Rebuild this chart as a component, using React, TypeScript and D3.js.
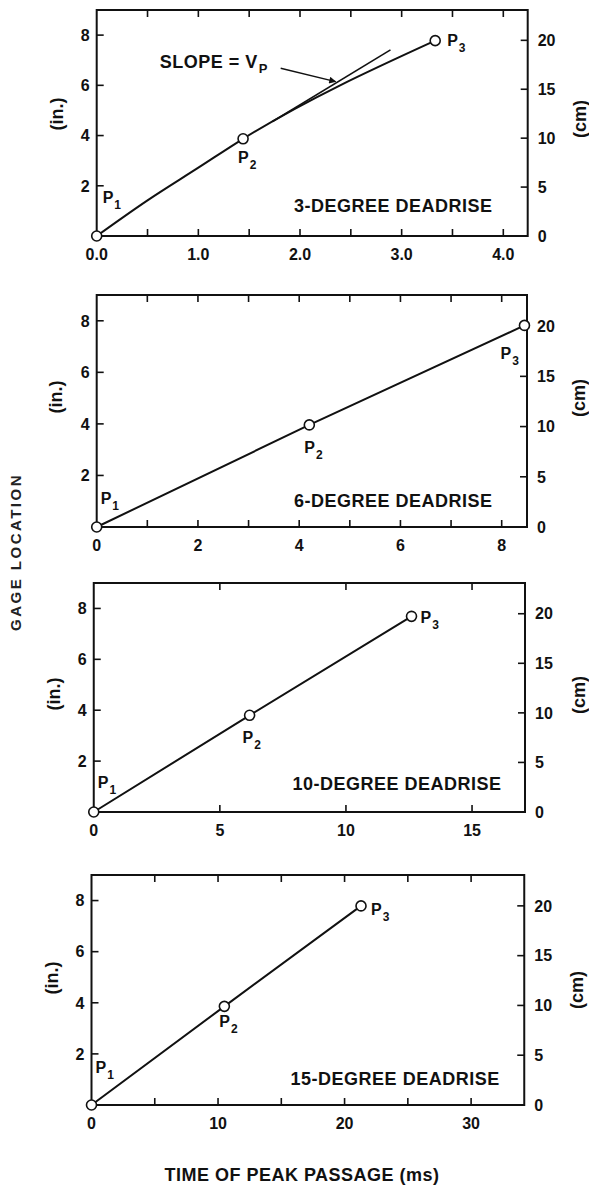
import React from "react";
import * as d3 from "d3";

// ---- data (time of peak passage in ms, gage location in inches) ----
const pointNames = ["P1", "P2", "P3"];

const deg3Time = [0, 1.44, 3.33];
const deg3Gage = [0, 3.87, 7.78];
const deg3CurveTime = [0, 0.5, 1.0, 1.44, 3.33];
const deg3CurveGage = [0, 1.42, 2.72, 3.87, 7.78];
const deg3SlopeTime = [1.73, 2.89];
const deg3SlopeGage = [4.56, 7.41];
const deg3ArrowTime = [1.81, 2.35];
const deg3ArrowGage = [6.68, 6.15];

const deg6Time = [0, 4.2, 8.45];
const deg6Gage = [0, 3.96, 7.82];

const deg10Time = [0, 6.18, 12.6];
const deg10Gage = [0, 3.8, 7.69];

const deg15Time = [0, 10.5, 21.3];
const deg15Gage = [0, 3.86, 7.79];

const titles = ["3-DEGREE DEADRISE", "6-DEGREE DEADRISE", "10-DEGREE DEADRISE", "15-DEGREE DEADRISE"];

const xLabelVals3 = [0, 1, 2, 3, 4];
const xLabels3 = ["0.0", "1.0", "2.0", "3.0", "4.0"];
const xTicks3 = [0.5, 1, 1.5, 2, 2.5, 3, 3.5, 4];
const xLabelVals6 = [0, 2, 4, 6, 8];
const xLabels6 = ["0", "2", "4", "6", "8"];
const xTicks6 = [1, 2, 3, 4, 5, 6, 7, 8];
const xLabelVals10 = [0, 5, 10, 15];
const xLabels10 = ["0", "5", "10", "15"];
const xTicks10 = [5, 10, 15];
const xLabelVals15 = [0, 10, 20, 30];
const xLabels15 = ["0", "10", "20", "30"];
const xTicks15 = [5, 10, 15, 20, 25, 30];

const inchTicks = [2, 4, 6, 8];
const cmTicks = [0, 5, 10, 15, 20];

const xAxisTitle = "TIME OF PEAK PASSAGE (ms)";
const yAxisTitle = "GAGE LOCATION";
const inUnit = "(in.)";
const cmUnit = "(cm)";
const slopeText = "SLOPE = V";
const slopeSub = "P";

// ---- layout ----
const W = 589;
const H = 1188;
const FONT = "'Liberation Sans', Arial, Helvetica, sans-serif";

type Panel = {
  time: number[]; gage: number[];
  curveTime?: number[]; curveGage?: number[];
  xMax: number; ticks: number[]; labelVals: number[]; labels: string[];
  L: number; R: number; T: number; B: number;
  title: string; titleX: number; titleDy: number;
  pOff: [number, number][];
  inY: number; cmY: number; inX: number; cmX: number;
};

const panels: Panel[] = [
  {
    time: deg3Time, gage: deg3Gage, curveTime: deg3CurveTime, curveGage: deg3CurveGage,
    xMax: 4.24, ticks: xTicks3, labelVals: xLabelVals3, labels: xLabels3,
    L: 96.7, R: 527.7, T: 10, B: 236,
    title: titles[0], titleX: 294, titleDy: -24,
    pOff: [[6, -33], [-5, 24], [12, 5]],
    inY: 114, cmY: 119, inX: 63, cmX: 586,
  },
  {
    time: deg6Time, gage: deg6Gage,
    xMax: 8.5, ticks: xTicks6, labelVals: xLabelVals6, labels: xLabels6,
    L: 96.7, R: 527, T: 295, B: 527,
    title: titles[1], titleX: 294, titleDy: -20,
    pOff: [[4, -23], [-5, 28], [-24, 34]],
    inY: 397, cmY: 398, inX: 62, cmX: 585,
  },
  {
    time: deg10Time, gage: deg10Gage,
    xMax: 17.1, ticks: xTicks10, labelVals: xLabelVals10, labels: xLabels10,
    L: 93.75, R: 525, T: 583, B: 812,
    title: titles[2], titleX: 292.5, titleDy: -22,
    pOff: [[4, -24], [-7, 28], [9, 7]],
    inY: 694, cmY: 695, inX: 60, cmX: 585,
  },
  {
    time: deg15Time, gage: deg15Gage,
    xMax: 34.2, ticks: xTicks15, labelVals: xLabelVals15, labels: xLabels15,
    L: 91.5, R: 524.25, T: 875, B: 1105,
    title: titles[3], titleX: 290.6, titleDy: -20,
    pOff: [[4, -32], [-5, 21], [10, 9]],
    inY: 978, cmY: 990, inX: 58, cmX: 583,
  },
];

const TICK = 7;

function PLabel({ x, y, name }: { x: number; y: number; name: string }) {
  return (
    <text x={x} y={y} fontFamily={FONT} fontWeight="bold" fontSize={16} fill="#111">
      {name[0]}
      <tspan fontSize={12} dy={6} dx={1}>{name.slice(1)}</tspan>
    </text>
  );
}

function PanelView({ p, idx }: { p: Panel; idx: number }) {
  const x = d3.scaleLinear().domain([0, p.xMax]).range([p.L, p.R]);
  const y = d3.scaleLinear().domain([0, 9]).range([p.B, p.T]);
  const yCm = d3.scaleLinear().domain([0, 23.1]).range([p.B, p.T]);

  const lt = p.curveTime || p.time;
  const lg = p.curveGage || p.gage;
  const pts: [number, number][] = lt.map((t, i) => [t, lg[i]]);
  const line = d3
    .line<[number, number]>()
    .x((d) => x(d[0]))
    .y((d) => y(d[1]))
    .curve(p.curveTime ? d3.curveMonotoneX : d3.curveLinear);

  const stroke = "#111";
  return (
    <g>
      <rect x={p.L} y={p.T} width={p.R - p.L} height={p.B - p.T} fill="none" stroke={stroke} strokeWidth={2} />
      {p.ticks.map((v, i) => (
        <g key={"xt" + i}>
          <line x1={x(v)} x2={x(v)} y1={p.B} y2={p.B - TICK} stroke={stroke} strokeWidth={1.6} />
          <line x1={x(v)} x2={x(v)} y1={p.T} y2={p.T + TICK} stroke={stroke} strokeWidth={1.6} />
        </g>
      ))}
      {p.labelVals.map((v, i) => (
        <text key={"xl" + i} x={x(v)} y={p.B + 24} textAnchor="middle" fontFamily={FONT} fontWeight="bold" fontSize={16} fill="#111">
          {p.labels[i]}
        </text>
      ))}
      {inchTicks.map((v, i) => (
        <g key={"yl" + i}>
          <line x1={p.L} x2={p.L + TICK} y1={y(v)} y2={y(v)} stroke={stroke} strokeWidth={1.6} />
          <text x={p.L - 7} y={y(v)} dy="0.36em" textAnchor="end" fontFamily={FONT} fontWeight="bold" fontSize={16} fill="#111">
            {v}
          </text>
        </g>
      ))}
      {cmTicks.map((v, i) => (
        <g key={"yr" + i}>
          {v > 0 && <line x1={p.R} x2={p.R - TICK} y1={yCm(v)} y2={yCm(v)} stroke={stroke} strokeWidth={1.6} />}
          <text x={p.R + 10} y={yCm(v)} dy="0.36em" textAnchor="start" fontFamily={FONT} fontWeight="bold" fontSize={16} fill="#111">
            {v}
          </text>
        </g>
      ))}
      <text transform={`translate(${p.inX},${p.inY}) rotate(-90)`} textAnchor="middle" fontFamily={FONT} fontWeight="bold" fontSize={18} fill="#111">
        {inUnit}
      </text>
      <text transform={`translate(${p.cmX},${p.cmY}) rotate(-90)`} textAnchor="middle" fontFamily={FONT} fontWeight="bold" fontSize={18} fill="#111">
        {cmUnit}
      </text>
      <path d={line(pts) || ""} fill="none" stroke={stroke} strokeWidth={2} />
      {idx === 0 && (
        <g>
          <line
            x1={x(deg3SlopeTime[0])} y1={y(deg3SlopeGage[0])}
            x2={x(deg3SlopeTime[1])} y2={y(deg3SlopeGage[1])}
            stroke={stroke} strokeWidth={1.6}
          />
          <line
            x1={x(deg3ArrowTime[0])} y1={y(deg3ArrowGage[0])}
            x2={x(deg3ArrowTime[1])} y2={y(deg3ArrowGage[1])}
            stroke={stroke} strokeWidth={1.4} markerEnd="url(#arrowHead)"
          />
          <text x={x(0.62)} y={y(6.68)} fontFamily={FONT} fontWeight="bold" fontSize={18} letterSpacing={0.5} fill="#111" xmlSpace="preserve">
            {slopeText}
            <tspan fontSize={13} dy={5} dx={1}>{slopeSub}</tspan>
          </text>
        </g>
      )}
      {p.time.map((t, i) => (
        <circle key={"c" + i} cx={x(t)} cy={y(p.gage[i])} r={5} fill="#fff" stroke={stroke} strokeWidth={1.6} />
      ))}
      {p.time.map((t, i) => (
        <PLabel key={"pl" + i} x={x(t) + p.pOff[i][0]} y={y(p.gage[i]) + p.pOff[i][1]} name={pointNames[i]} />
      ))}
      <text x={p.titleX} y={p.B + p.titleDy} fontFamily={FONT} fontWeight="bold" fontSize={18} letterSpacing={0.5} fill="#111">
        {p.title}
      </text>
    </g>
  );
}

export default function App() {
  return (
    <svg
      width={W}
      height={H}
      viewBox={`0 0 ${W} ${H}`}
      style={{ position: "absolute", left: 0, top: 0, background: "#fff" }}
    >
      <defs>
        <marker id="arrowHead" viewBox="0 0 10 10" refX={9} refY={5} markerWidth={11} markerHeight={7} markerUnits="userSpaceOnUse" orient="auto">
          <path d="M0,0 L10,5 L0,10 z" fill="#111" />
        </marker>
      </defs>
      <rect x={0} y={0} width={W} height={H} fill="#fff" />
      {panels.map((p, i) => (
        <PanelView key={i} p={p} idx={i} />
      ))}
      <text transform="translate(21,552) rotate(-90)" textAnchor="middle" fontFamily={FONT} fontWeight="bold" fontSize={15} letterSpacing={2.5} fill="#222">
        {yAxisTitle}
      </text>
      <text x={302} y={1181} textAnchor="middle" fontFamily={FONT} fontWeight="bold" fontSize={18} letterSpacing={0.5} fill="#111">
        {xAxisTitle}
      </text>
    </svg>
  );
}
